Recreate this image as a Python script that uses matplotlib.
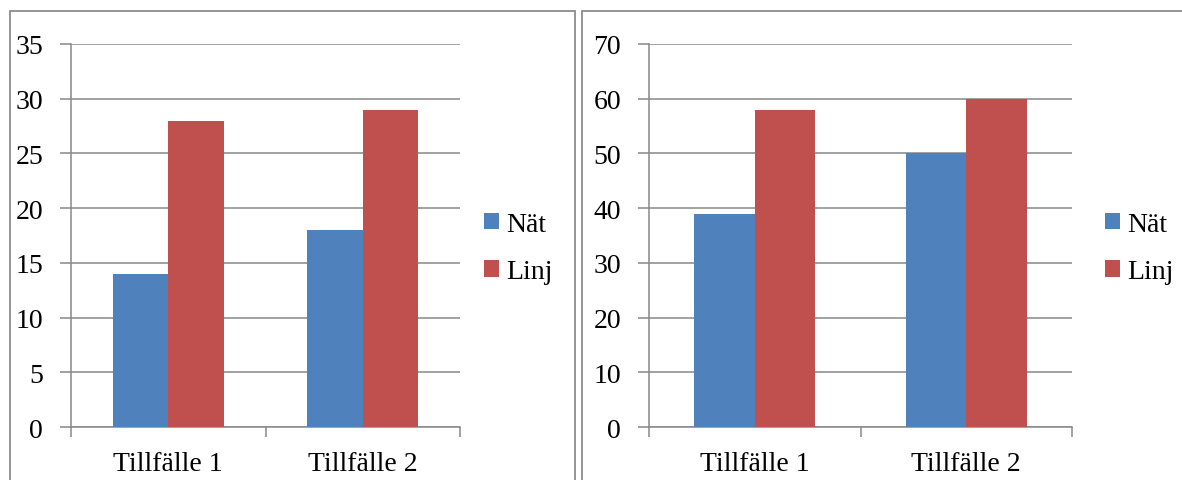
import matplotlib
matplotlib.use('Agg')
import matplotlib.pyplot as plt
from matplotlib.patches import Rectangle
import numpy as np

plt.rcParams['font.family'] = ['Liberation Serif', 'DejaVu Serif']

# data
tillfallen = ['Tillfälle 1', 'Tillfälle 2']
serier = ['Nät', 'Linj']
vanster_nat = [14, 18]
vanster_linj = [28, 29]
hoger_nat = [39, 50]
hoger_linj = [58, 60]
vanster_yticks = [0, 5, 10, 15, 20, 25, 30, 35]
hoger_yticks = [0, 10, 20, 30, 40, 50, 60, 70]

bla = '#4F81BD'
rod = '#C0504D'
gra = '#888888'
fs = 20

W, H = 1182, 481
fig = plt.figure(figsize=(W / 100, H / 100), dpi=100)

# ramar runt de två diagrammen
for x0, x1 in [(10, 575), (582, 1190)]:
    fig.add_artist(Rectangle((x0 / W, -0.1), (x1 - x0) / W, 1.1 - 12 / H,
                             transform=fig.transFigure, fill=False,
                             edgecolor='#8c8c8c', linewidth=1.3))


def stapeldiagram(rect, nat, linj, yticks, legend_x):
    ax = fig.add_axes(rect)
    x = np.arange(len(tillfallen))
    b = 1 / 3.5
    ax.bar(x - b / 2, nat, b, color=bla, label=serier[0], zorder=3)
    ax.bar(x + b / 2, linj, b, color=rod, label=serier[1], zorder=3)
    ax.set_xlim(-0.5, len(tillfallen) - 0.5)
    ax.set_ylim(yticks[0], yticks[-1])
    ax.set_yticks(yticks)
    ax.yaxis.grid(True, color=gra, linewidth=1.1, zorder=0)
    ax.set_xticks(np.arange(len(tillfallen) + 1) - 0.5)
    ax.set_xticklabels([])
    ax.set_xticks(x, minor=True)
    ax.set_xticklabels(tillfallen, minor=True, fontsize=fs)
    ax.tick_params(axis='x', which='major', length=7, width=1.1, color=gra)
    ax.tick_params(axis='x', which='minor', length=0, pad=17)
    ax.tick_params(axis='y', length=8, width=1.1, color=gra, pad=12,
                   labelsize=fs)
    for s in ['top', 'right']:
        ax.spines[s].set_visible(False)
    for s in ['left', 'bottom']:
        ax.spines[s].set_color(gra)
        ax.spines[s].set_linewidth(1.1)
    ax.legend(loc='center left', bbox_to_anchor=(legend_x, 1 - 249 / H),
              bbox_transform=fig.transFigure, frameon=False, fontsize=fs,
              handlelength=0.55, handleheight=0.55, handletextpad=0.25,
              labelspacing=0.8, borderpad=0, borderaxespad=0)
    return ax


bottom = 1 - 428 / H
height = (428 - 45) / H
stapeldiagram([71 / W, bottom, (460 - 71) / W, height],
              vanster_nat, vanster_linj, vanster_yticks, 484 / W)
stapeldiagram([649 / W, bottom, (1072 - 649) / W, height],
              hoger_nat, hoger_linj, hoger_yticks, 1105 / W)

fig.savefig('out.png', dpi=100)
